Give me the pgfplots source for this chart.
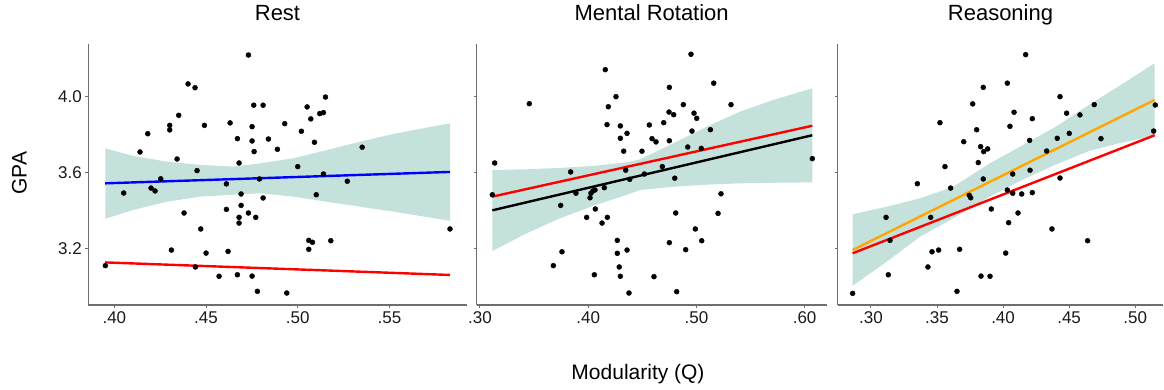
\documentclass[border=0pt]{standalone}
\usepackage{pgfplots}
\pgfplotsset{compat=1.18}
\usepackage{fontspec}
\setmainfont{Liberation Sans}
\definecolor{band}{RGB}{60,160,135}
\definecolor{axisgray}{RGB}{110,110,110}
\definecolor{myorange}{RGB}{255,165,0}
\pgfplotsset{
 panel/.style={
  scale only axis, height=261pt,
  axis x line=bottom, axis y line=left,
  axis line style={-, axisgray, line width=1.3pt},
  tick style={axisgray, line width=1pt},
  tick align=outside, major tick length=3pt,
  ymin=2.904, ymax=4.277,
  ytick={3.2,3.6,4.0},
  tick label style={font=\fontsize{17}{20}\selectfont, text=black!90},
  title style={font=\fontsize{22}{26}\selectfont, at={(0.5,1)}, anchor=base, yshift=17.3pt, inner sep=0pt},
  anchor=south west,
 },
 pts/.style={only marks, mark=*, mark size=2.5pt, black},
 ci/.style={draw=none, fill=band, fill opacity=0.3, forget plot},
 fit/.style={no marks, line width=2.4pt},
}
\begin{document}
\begin{tikzpicture}
\path[use as bounding box] (0,0) rectangle (1164pt,390pt);
% ---------------- Rest ----------------
\begin{axis}[panel, at={(88.3pt,85pt)}, width=378.4pt, xmin=0.3858, xmax=0.5921,
  xtick={0.40,0.45,0.50,0.55}, xticklabels={.40,.45,.50,.55},
  yticklabels={3.2,3.6,4.0}, title={Rest}]
\addplot[pts] coordinates {
(0.3951,3.111)(0.4051,3.493)(0.414,3.709)(0.4182,3.805)(0.420,3.519)(0.4222,3.504)(0.4253,3.568)(0.4302,3.849)(0.4302,3.825)(0.4351,3.902)(0.4342,3.672)(0.4311,3.193)(0.438,3.388)(0.4402,4.067)(0.444,4.047)(0.4442,3.104)(0.4451,3.611)(0.4471,3.304)(0.4491,3.849)(0.450,3.177)(0.4571,3.055)(0.4611,3.541)(0.4611,3.407)(0.462,3.186)(0.4631,3.862)(0.4671,3.779)(0.4671,3.063)(0.468,3.651)(0.468,3.365)(0.468,3.335)(0.4691,3.488)(0.4691,3.428)(0.4731,4.219)(0.4731,3.388)(0.4751,3.842)(0.4751,3.767)(0.4751,3.056)(0.476,3.955)(0.4762,3.711)(0.4771,3.365)(0.478,2.976)(0.4791,3.567)(0.4811,3.955)(0.4811,3.467)(0.484,3.777)(0.4889,3.723)(0.4929,3.858)(0.494,2.967)(0.500,3.632)(0.502,3.818)(0.5051,3.946)(0.506,3.244)(0.506,3.197)(0.5071,3.883)(0.508,3.234)(0.5091,3.760)(0.5101,3.484)(0.512,3.911)(0.514,3.916)(0.514,3.593)(0.5151,3.998)(0.518,3.242)(0.527,3.555)(0.5351,3.734)(0.583,3.304)
};
\addplot[ci] coordinates {
(0.3951,3.728)(0.4104,3.688)(0.4286,3.658)(0.4467,3.641)(0.4649,3.632)(0.4794,3.649)(0.4976,3.676)(0.5158,3.719)(0.534,3.763)(0.5521,3.804)(0.583,3.860)
(0.583,3.347)(0.5521,3.395)(0.534,3.421)(0.5158,3.447)(0.4976,3.474)(0.4794,3.492)(0.4649,3.484)(0.4467,3.474)(0.4286,3.447)(0.4104,3.404)(0.3951,3.358)
};
\addplot[fit, red] coordinates {(0.395,3.128)(0.583,3.062)};
\addplot[fit, blue] coordinates {(0.395,3.544)(0.583,3.604)};
\end{axis}
% ---------------- Mental Rotation ----------------
\begin{axis}[panel, at={(476.7pt,85pt)}, width=350pt, xmin=0.297, xmax=0.6204,
  xtick={0.30,0.40,0.50,0.60}, xticklabels={.30,.40,.50,.60},
  yticklabels={}, title={Mental Rotation}]
\addplot[pts] coordinates {
(0.3114,3.484)(0.3136,3.651)(0.3456,3.963)(0.3678,3.111)(0.3746,3.428)(0.3758,3.184)(0.3838,3.604)(0.3887,3.492)(0.3986,3.365)(0.4017,3.468)(0.4026,3.492)(0.4044,3.504)(0.4063,3.509)(0.4057,3.063)(0.4066,3.409)(0.4128,3.335)(0.4149,3.521)(0.4158,4.142)(0.4174,3.853)(0.4186,3.947)(0.4177,3.365)(0.4257,4.000)(0.4269,3.244)(0.4269,3.176)(0.4287,3.104)(0.4297,3.055)(0.4297,3.846)(0.4297,3.781)(0.4328,3.713)(0.4347,3.613)(0.4359,3.807)(0.4359,3.193)(0.4377,2.967)(0.4384,3.565)(0.4497,3.713)(0.4519,3.593)(0.4565,3.851)
(0.4590,3.779)(0.4608,3.053)(0.4627,3.762)(0.4685,3.632)(0.4698,3.863)(0.4750,4.049)(0.4747,3.919)(0.4750,3.768)(0.4750,3.232)(0.4790,3.905)(0.4800,3.571)(0.4809,3.388)(0.4818,2.974)(0.4879,3.958)(0.4901,3.195)(0.4920,3.735)(0.4950,4.223)(0.4959,3.819)(0.4978,3.913)(0.4990,3.304)(0.5003,3.886)(0.5045,3.728)(0.5049,3.242)(0.5129,3.826)(0.5160,4.071)(0.5200,3.386)(0.5227,3.489)(0.5320,3.958)(0.6071,3.674)
};
\addplot[ci] coordinates {
(0.3114,3.614)(0.3431,3.618)(0.3739,3.625)(0.4047,3.635)(0.4356,3.655)(0.4479,3.670)(0.4787,3.755)(0.5095,3.842)(0.5403,3.921)(0.5711,3.983)(0.6071,4.044)
(0.6071,3.549)(0.5711,3.547)(0.5403,3.544)(0.5095,3.537)(0.4787,3.526)(0.4479,3.509)(0.4356,3.483)(0.4047,3.426)(0.3739,3.360)(0.3431,3.281)(0.3114,3.188)
};
\addplot[fit, red] coordinates {(0.3114,3.474)(0.6071,3.847)};
\addplot[fit, black] coordinates {(0.3114,3.402)(0.6071,3.797)};
\end{axis}
% ---------------- Reasoning ----------------
\begin{axis}[panel, at={(837.7pt,85pt)}, width=325.6pt, xmin=0.2748, xmax=0.5213,
  xtick={0.30,0.35,0.40,0.45,0.50}, xticklabels={.30,.35,.40,.45,.50},
  yticklabels={}, title={Reasoning}]
\addplot[pts] coordinates {
(0.2861,2.965)(0.3114,3.365)(0.3131,3.063)(0.3144,3.244)(0.3351,3.542)(0.3431,3.104)(0.3452,3.365)(0.3462,3.184)(0.3512,3.193)(0.3522,3.863)(0.3560,3.632)(0.3603,3.519)(0.3651,2.976)(0.3671,3.197)(0.3702,3.763)(0.3744,3.481)(0.3755,3.468)(0.3770,3.962)(0.3800,3.826)(0.3812,3.653)(0.3830,3.737)(0.3833,3.056)(0.3850,4.049)(0.3853,3.711)(0.3850,3.567)(0.3883,3.725)(0.3901,3.055)(0.3911,3.409)
(0.4020,3.177)(0.4032,4.071)(0.4032,3.509)(0.4042,3.337)(0.4052,3.844)(0.4073,3.593)(0.4073,3.492)(0.4083,3.918)(0.4113,3.388)(0.4141,3.488)(0.4171,4.221)(0.4201,3.770)(0.4204,3.613)(0.4221,3.884)(0.4221,3.495)(0.4330,3.714)(0.4370,3.304)(0.4410,3.781)(0.4431,4.000)(0.4431,3.572)(0.4481,3.913)(0.4501,3.807)(0.4582,3.904)(0.4640,3.242)(0.4690,3.958)(0.4741,3.779)(0.5140,3.819)(0.5152,3.956)
};
\addplot[ci] coordinates {
(0.2861,3.381)(0.3119,3.421)(0.3371,3.465)(0.3623,3.526)(0.3901,3.650)(0.4153,3.746)(0.4406,3.845)(0.4658,3.960)(0.4910,4.070)(0.5148,4.176)
(0.5148,3.793)(0.4910,3.760)(0.4658,3.716)(0.4406,3.645)(0.4153,3.565)(0.3901,3.475)(0.3623,3.360)(0.3371,3.263)(0.3119,3.132)(0.2861,3.005)
};
\addplot[fit, red] coordinates {(0.2861,3.176)(0.5148,3.797)};
\addplot[fit, myorange] coordinates {(0.2861,3.193)(0.5148,3.983)};
\end{axis}
\node[font=\fontsize{21}{25}\selectfont, anchor=base] at (638pt,10.7pt) {Modularity (Q)};
\node[font=\fontsize{21}{25}\selectfont, rotate=90, anchor=base] at (26.7pt,216.7pt) {GPA};
\end{tikzpicture}
\end{document}
